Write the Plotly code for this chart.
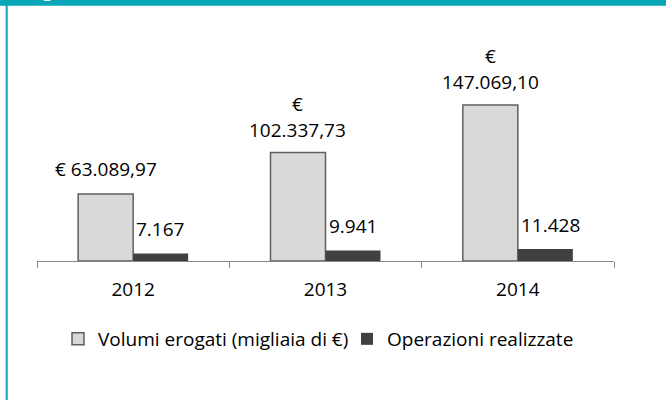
import plotly.graph_objects as go

years = ["2012", "2013", "2014"]
volumi = [63089.97, 102337.73, 147069.10]
operazioni = [7167, 9941, 11428]
series_names = ["Volumi erogati (migliaia di €)", "Operazioni realizzate"]


def it_num(v, dec):
    s = f"{v:,.{dec}f}"
    return s.replace(",", "X").replace(".", ",").replace("X", ".")


FONT = "Open Sans"
TEAL = "#08a6b7"
L_PX, R_PX, T_PX, B_PX = 37, 52, 30, 139
W, H = 666, 400
PW, PH = W - L_PX - R_PX, H - T_PX - B_PX
BAR_PX = PW / 3 * (1 - 0.428) / 2


def px_x(px):
    return (px - L_PX) / PW


def px_y(py):
    return (H - B_PX - py) / PH


fig = go.Figure()
fig.add_trace(go.Bar(
    x=years, y=volumi, name=series_names[0],
    marker=dict(color="#d9d9d9", line=dict(color="#5f5f5f", width=1.5)),
))
fig.add_trace(go.Bar(
    x=years, y=operazioni, name=series_names[1],
    marker=dict(color="#404040", line=dict(color="#404040", width=0)),
))

annotations = []
for i, v in enumerate(volumi):
    num = it_num(v, 2)
    if v >= 100000:
        annotations.append(dict(x=i, y=v, xref="x", yref="y", text=num,
                                showarrow=False, xshift=-BAR_PX / 2, yshift=23,
                                yanchor="middle", xanchor="center"))
        annotations.append(dict(x=i, y=v, xref="x", yref="y", text="€",
                                showarrow=False, xshift=-BAR_PX / 2, yshift=49,
                                yanchor="middle", xanchor="center"))
    else:
        annotations.append(dict(x=i, y=v, xref="x", yref="y", text="€ " + num,
                                showarrow=False, xshift=-BAR_PX / 2, yshift=25,
                                yanchor="middle", xanchor="center"))
for i, v in enumerate(operazioni):
    annotations.append(dict(x=i, y=v, xref="x", yref="y", text=it_num(v, 0),
                            showarrow=False, xshift=1, yshift=24,
                            yanchor="middle", xanchor="left"))

# cropped title remnant in the header band
annotations.append(dict(x=px_x(47), y=px_y(-11), xref="paper", yref="paper", text="g",
                        showarrow=False, xanchor="center", yanchor="middle",
                        font=dict(color="white", size=20)))

shapes = [
    dict(type="rect", xref="paper", yref="paper",
         x0=px_x(-5), x1=px_x(W + 5), y0=px_y(5.7), y1=px_y(-5),
         fillcolor=TEAL, line=dict(width=0), layer="below"),
    dict(type="rect", xref="paper", yref="paper",
         x0=px_x(5.7), x1=px_x(7.7), y0=px_y(H + 5), y1=px_y(0),
         fillcolor=TEAL, line=dict(width=0), layer="below"),
]

fig.update_layout(
    width=W, height=H,
    margin=dict(l=L_PX, r=R_PX, t=T_PX, b=B_PX, pad=0, autoexpand=False),
    paper_bgcolor="white", plot_bgcolor="white",
    font=dict(family=FONT, size=19, color="#000000"),
    barmode="group", bargap=0.428, bargroupgap=0,
    xaxis=dict(type="category", range=[-0.5, 2.5], autorange=False,
               showline=True, linecolor="#868686", linewidth=1,
               ticks="outside", ticklen=6, tickcolor="#868686", tickwidth=1,
               tickson="boundaries", showgrid=False, zeroline=False,
               automargin=False, tickangle=0, ticklabelstandoff=11,
               tickfont=dict(size=19, color="#000000")),
    yaxis=dict(visible=False, range=[0, 217900], autorange=False),
    legend=dict(orientation="h", xref="container", yref="container",
                x=58 / W, xanchor="left", y=1 - 320 / H, yanchor="top",
                font=dict(size=19), entrywidth=244, entrywidthmode="pixels",
                bgcolor="rgba(0,0,0,0)", borderwidth=0),
    annotations=annotations,
    shapes=shapes,
    showlegend=True,
)

fig.write_html("out.html", config={"displayModeBar": False},
               post_script="document.body.style.margin='0';document.body.style.overflow='hidden';")
